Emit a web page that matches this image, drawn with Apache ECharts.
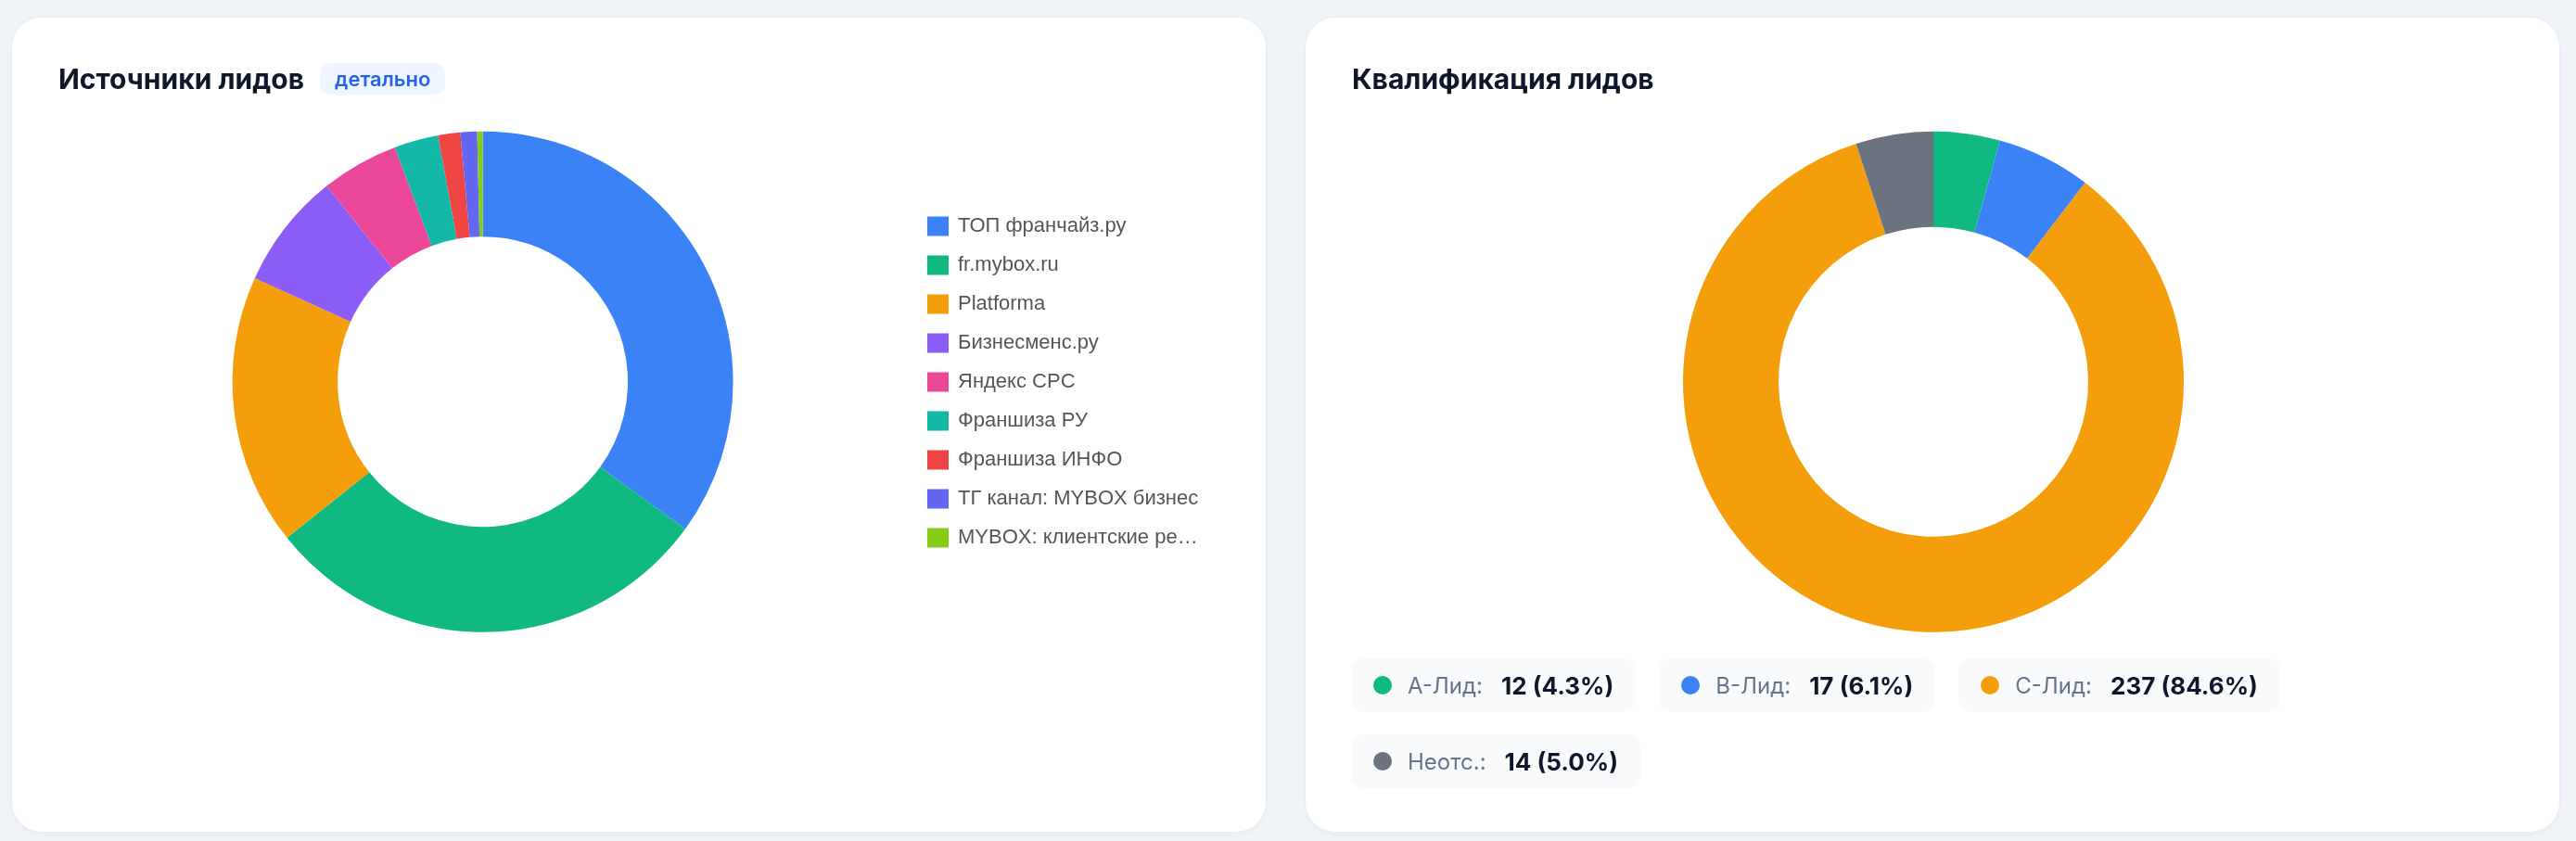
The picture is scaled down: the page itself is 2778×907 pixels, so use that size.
<!DOCTYPE html>
<html lang="ru">
<head>
<meta charset="utf-8">
<title>Лиды</title>
<script src="https://cdn.jsdelivr.net/npm/echarts@6/dist/echarts.min.js"></script>
<style>
  html, body { margin: 0; padding: 0; background: #eff3f8; }
  body { width: 2778px; height: 907px; position: relative; overflow: hidden; font-family: Inter, "Noto Sans", sans-serif; }
  .card {
    position: absolute; top: 19px; width: 1352px; height: 878px;
    background: #fff; border-radius: 32px;
    box-shadow: 0 0 0 1px #e8edf4, 0 2px 6px rgba(15, 23, 42, .04);
  }
  .card-left { left: 13px; }
  .card-right { left: 1408px; }
  .chart { position: absolute; left: 0; top: 0; width: 100%; height: 100%; }
  .head {
    position: absolute; left: 50px; top: 49px; height: 34px;
    display: flex; align-items: center; z-index: 2;
  }
  .head h3 { margin: 0; font-size: 30px; line-height: 34px; font-weight: 700; color: #0f172a; }
  .badge {
    margin-left: 17px; height: 34px; line-height: 34px; padding: 0 16px;
    border-radius: 10px; background: #eff6ff; color: #2563eb;
    font-size: 22px; font-weight: 600;
  }
  .pills {
    position: absolute; left: 49px; top: 691px; width: 1060px; z-index: 2;
    display: flex; flex-wrap: wrap; gap: 24px 25px;
  }
  .pill {
    height: 58px; padding: 0 24px; border-radius: 13px; background: #f8fafc;
    display: flex; align-items: center; font-size: 24px; white-space: nowrap;
  }
  .pill .dot { width: 20px; height: 20px; border-radius: 50%; margin-right: 17px; }
  .pill .lbl { color: #64748b; }
  .pill .val { color: #0f172a; font-weight: 700; font-size: 26px; margin-left: 20px; }
</style>
</head>
<body>

<div class="card card-left">
  <div class="head"><h3>Источники лидов</h3><span class="badge">детально</span></div>
  <div class="chart" id="sources"></div>
</div>

<div class="card card-right">
  <div class="head"><h3>Квалификация лидов</h3></div>
  <div class="chart" id="quality"></div>
  <div class="pills" id="pills"></div>
</div>

<script>
// источники лидов
const sourceNames = ['ТОП франчайз.ру', 'fr.mybox.ru', 'Platforma', 'Бизнесменс.ру', 'Яндекс CPC',
  'Франшиза РУ', 'Франшиза ИНФО', 'ТГ канал: MYBOX бизнес', 'MYBOX: клиентские рекомендации']
const sourceValues = [98, 82, 49, 21, 14, 8, 4, 3, 1]
const sourceColors = ['#3b82f6', '#10b981', '#f59e0b', '#8b5cf6', '#ec4899',
  '#14b8a6', '#ef4444', '#6366f1', '#84cc16']

// квалификация
const qualityNames = ['А-Лид', 'В-Лид', 'С-Лид', 'Неотс.']
const qualityValues = [12, 17, 237, 14]
const qualityColors = ['#10b981', '#3b82f6', '#f59e0b', '#6b7280']

const LEGEND_FONT = '22px "Liberation Sans"'

// обрезка длинных подписей (у echarts truncate плохо считает кириллицу)
const measureCtx = document.createElement('canvas').getContext('2d')
function fitText(text, maxWidth){
  measureCtx.font = LEGEND_FONT
  if (measureCtx.measureText(text).width <= maxWidth) return text
  let s = text
  while (s.length && measureCtx.measureText(s + '…').width > maxWidth) s = s.slice(0, -1)
  return s.trimEnd() + '…'
}

function pieSeries(names, values, center, radius){
  return {
    type: 'pie',
    center: center,
    radius: radius,
    startAngle: 90,
    clockwise: true,
    avoidLabelOverlap: false,
    label: { show: false },
    labelLine: { show: false },
    emphasis: { disabled: true },
    itemStyle: { borderWidth: 0 },
    data: names.map((n, i) => ({ name: n, value: values[i] }))
  }
}

const sourcesChart = echarts.init(document.getElementById('sources'))
sourcesChart.setOption({
  animation: false,
  color: sourceColors,
  legend: {
    orient: 'vertical',
    left: 982,
    top: 209,
    icon: 'rect',
    itemWidth: 23,
    itemHeight: 21,
    itemGap: 20,
    selectedMode: false,
    formatter: name => fitText(name, 264),
    textStyle: {
      fontFamily: 'Liberation Sans',
      fontSize: 22,
      color: '#555',
      padding: [0, 0, 0, 5]
    },
    data: sourceNames
  },
  series: [pieSeries(sourceNames, sourceValues, [507.6, 392.7], [156.5, 270])]
})

const qualityChart = echarts.init(document.getElementById('quality'))
qualityChart.setOption({
  animation: false,
  color: qualityColors,
  series: [pieSeries(qualityNames, qualityValues, [677, 392.7], [167, 270])]
})

// плашки с итогами
const total = qualityValues.reduce((a, b) => a + b, 0)
const pills = document.getElementById('pills')
qualityNames.forEach((n, i) => {
  const pct = (qualityValues[i] / total * 100).toFixed(1)
  const el = document.createElement('div')
  el.className = 'pill'
  el.innerHTML = '<span class="dot" style="background:' + qualityColors[i] + '"></span>' +
    '<span class="lbl">' + n + ':</span>' +
    '<span class="val">' + qualityValues[i] + ' (' + pct + '%)</span>'
  pills.appendChild(el)
})
</script>
</body>
</html>
